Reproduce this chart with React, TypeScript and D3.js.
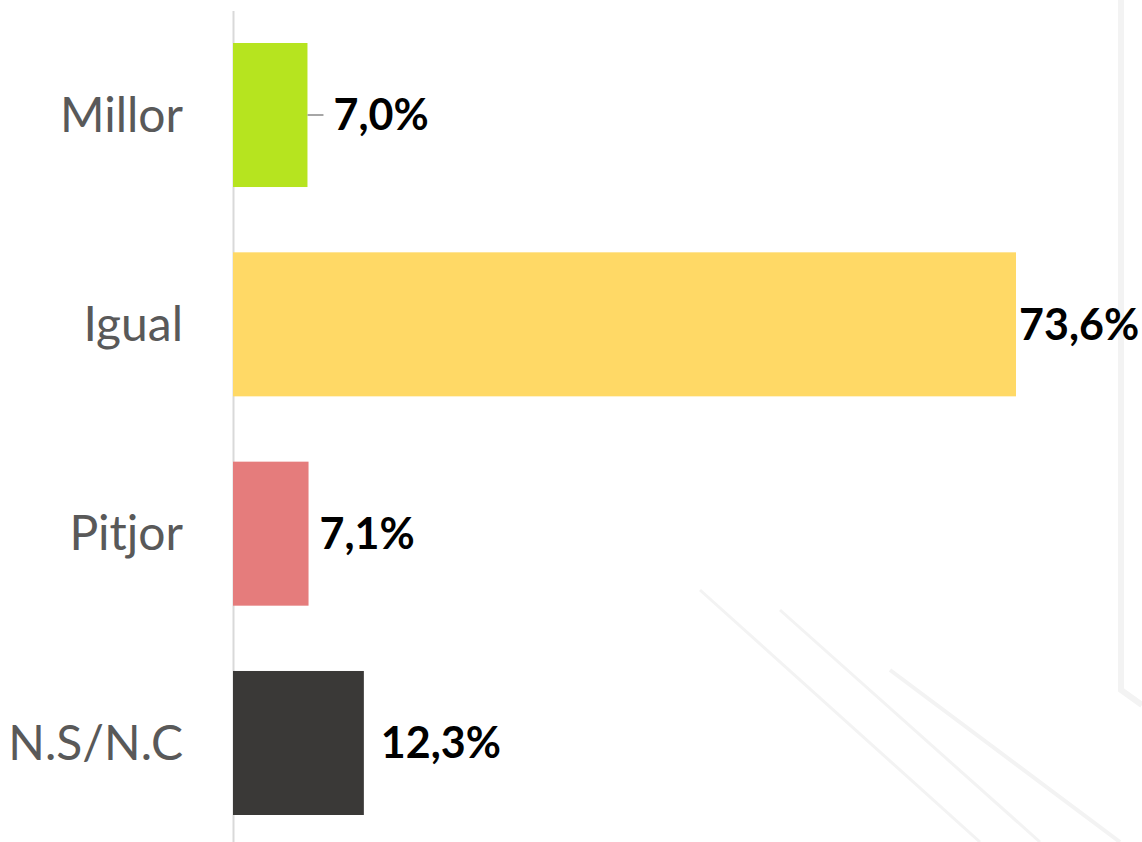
import * as d3 from "d3";

const categories = ["Millor", "Igual", "Pitjor", "N.S/N.C"];
const values = [7.0, 73.6, 7.1, 12.3];
const valueLabels = ["7,0%", "73,6%", "7,1%", "12,3%"];
const barColors = ["#b6e41f", "#ffd966", "#e57c7c", "#3a3937"];
// manual label nudges (px from bar end), as placed in the original
const labelNudge = [26, 3, 11, 17];

const W = 1142;
const H = 842;

export default function App() {
  const x = d3.scaleLinear().domain([0, 73.6]).range([233, 1016]);
  const y = d3
    .scaleBand<string>()
    .domain(categories)
    .range([10.35, 847.65])
    .paddingInner(0.312)
    .paddingOuter(0.156);

  const bw = y.bandwidth();

  return (
    <svg
      width={W}
      height={H}
      style={{ position: "absolute", left: 0, top: 0, background: "#fff" }}
    >
      {/* faint background texture */}
      <g fill="none" stroke="#f3f3f3">
        <path d="M1121 0 L1121 690 L1142 705" strokeWidth={6} />
        <path d="M700 590 L980 842" strokeWidth={3} />
        <path d="M780 610 L1040 842" strokeWidth={3} />
        <path d="M890 670 L1120 842" strokeWidth={4} />
      </g>

      <line x1={233.5} x2={233.5} y1={11} y2={H} stroke="#d9d9d9" strokeWidth={2} />

      {categories.map((c, i) => {
        const cy = (y(c) ?? 0) + bw / 2;
        return (
          <g key={c}>
            <rect
              x={x(0)}
              y={y(c)}
              width={x(values[i]) - x(0)}
              height={bw}
              fill={barColors[i]}
            />
            <text
              x={183}
              y={cy}
              dy="0.35em"
              textAnchor="end"
              fontFamily="Lato, 'Open Sans', sans-serif"
              fontSize={48}
              fill="#595959"
            >
              {c}
            </text>
            {labelNudge[i] > 20 && (
              <line
                x1={x(values[i])}
                x2={x(values[i]) + labelNudge[i] - 10}
                y1={cy}
                y2={cy}
                stroke="#a6a6a6"
                strokeWidth={2}
              />
            )}
            <text
              x={x(values[i]) + labelNudge[i]}
              y={cy}
              dy="0.36em"
              fontFamily="Lato, 'Open Sans', sans-serif"
              fontWeight="bold"
              fontSize={43}
              fill="#000"
            >
              {valueLabels[i]}
            </text>
          </g>
        );
      })}
    </svg>
  );
}
